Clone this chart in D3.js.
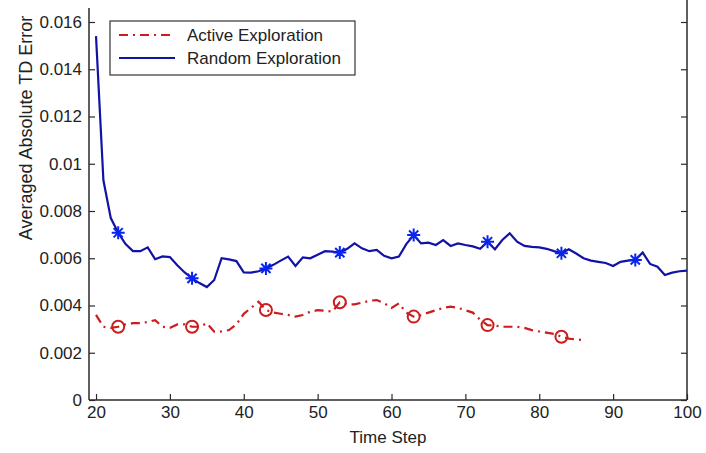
<!DOCTYPE html>
<html>
<head>
<meta charset="utf-8">
<script src="https://cdn.jsdelivr.net/npm/d3@7"></script>
<style>
  html, body { margin: 0; padding: 0; background: #fff; }
  svg { display: block; }
  text { font-family: "Liberation Sans", Arial, sans-serif; fill: #222; }
</style>
</head>
<body>
<svg id="chart" width="706" height="453"></svg>
<script>
// ---------------- data ----------------
const randomStart = 20;
const randomValues = [
  0.0154, 0.0093, 0.0077, 0.00708, 0.0066, 0.0063, 0.0063, 0.00646, 0.00596, 0.00608,
  0.00605, 0.0057, 0.0054, 0.00515, 0.00495, 0.00478, 0.00508, 0.00600, 0.00595, 0.00588,
  0.0054, 0.00539, 0.00545, 0.00557, 0.00572, 0.0059, 0.00607, 0.00567, 0.00604, 0.00600,
  0.00615, 0.0063, 0.00628, 0.00624, 0.0064, 0.00663, 0.00642, 0.0063, 0.00635, 0.0061,
  0.00600, 0.00607, 0.0066, 0.00698, 0.00663, 0.00666, 0.00656, 0.00677, 0.00652, 0.00663,
  0.00656, 0.0065, 0.0064, 0.0067, 0.00638, 0.00677, 0.00706, 0.0067, 0.00652, 0.00648,
  0.00646, 0.0064, 0.0063, 0.00621, 0.00638, 0.0062, 0.0060, 0.0059, 0.00585, 0.0058,
  0.00567, 0.00585, 0.0059, 0.00593, 0.00624, 0.00576, 0.00564, 0.00529, 0.00539, 0.00545,
  0.00548
];
const activeStart = 20;
const activeValues = [
  0.0036, 0.0031, 0.00305, 0.0031, 0.0032, 0.00325, 0.00325, 0.0033, 0.00338, 0.0031,
  0.00305, 0.0032, 0.0032, 0.0031, 0.0031, 0.00325, 0.00289, 0.0029, 0.00296, 0.0032,
  0.00365, 0.0039, 0.00416, 0.00381, 0.0037, 0.00365, 0.0036, 0.00353, 0.0036, 0.00374,
  0.0038, 0.00378, 0.00374, 0.00414, 0.00405, 0.00405, 0.00412, 0.0042, 0.00423, 0.0041,
  0.0039, 0.00409, 0.0037, 0.00353, 0.0036, 0.0037, 0.0038, 0.0039, 0.00395, 0.0039,
  0.0038, 0.0037, 0.0034, 0.00317, 0.00315, 0.0031, 0.0031, 0.0031, 0.00305, 0.00296,
  0.0029, 0.00285, 0.0028, 0.00268, 0.0026, 0.00256, 0.00254
];
const markerSteps = [23, 33, 43, 53, 63, 73, 83, 93];
const seriesNames = ["Active Exploration", "Random Exploration"];
const xTickValues = [20, 30, 40, 50, 60, 70, 80, 90, 100];
const xTickLabels = ["20", "30", "40", "50", "60", "70", "80", "90", "100"];
const yTickValues = [0, 0.002, 0.004, 0.006, 0.008, 0.01, 0.012, 0.014, 0.016];
const yTickLabels = ["0", "0.002", "0.004", "0.006", "0.008", "0.01", "0.012", "0.014", "0.016"];
const xTitle = "Time Step";
const yTitle = "Averaged Absolute TD Error";

// ---------------- layout ----------------
const svg = d3.select("#chart");
const left = 89, right = 687, bottom = 400;
const x = d3.scaleLinear().domain([19.05, 100]).range([left, right]);
const y = d3.scaleLinear().domain([0, 0.016]).range([bottom, 22]);

const randomData = randomValues.map((v, i) => ({ t: randomStart + i, v }));
const activeData = activeValues.map((v, i) => ({ t: activeStart + i, v }));

const axisColor = "#2a2a2a";
const fontSize = 17;

// axes
const xAxis = d3.axisBottom(x).tickValues(xTickValues)
  .tickFormat((d, i) => xTickLabels[i]).tickSizeInner(-6).tickSizeOuter(0).tickPadding(6);
const gx = svg.append("g").attr("transform", `translate(0,${bottom})`).call(xAxis);

const yAxis = d3.axisLeft(y).tickValues(yTickValues)
  .tickFormat((d, i) => yTickLabels[i]).tickSizeInner(-6).tickSizeOuter(0).tickPadding(7);
const gy = svg.append("g").attr("transform", `translate(${left},0)`).call(yAxis);

const yAxisR = d3.axisRight(y).tickValues(yTickValues)
  .tickFormat("").tickSizeInner(-6).tickSizeOuter(0);
const gyr = svg.append("g").attr("transform", `translate(${right},0)`).call(yAxisR);

[gx, gy, gyr].forEach(g => {
  g.select(".domain").remove();
  g.selectAll(".tick line").attr("stroke", axisColor).attr("stroke-width", 1.2);
  g.selectAll(".tick text").attr("font-size", fontSize)
    .attr("font-family", "'Liberation Sans', Arial, sans-serif").attr("fill", "#222");
});

// axis lines (box without top, as in reference crop)
svg.append("line").attr("x1", left).attr("x2", left).attr("y1", 8).attr("y2", bottom)
  .attr("stroke", axisColor).attr("stroke-width", 1.5);
svg.append("line").attr("x1", right).attr("x2", right).attr("y1", 0).attr("y2", bottom)
  .attr("stroke", axisColor).attr("stroke-width", 1.5);
svg.append("line").attr("x1", left).attr("x2", right).attr("y1", bottom).attr("y2", bottom)
  .attr("stroke", axisColor).attr("stroke-width", 1.5);

// axis titles
svg.append("text").attr("x", (left + right) / 2).attr("y", 443)
  .attr("text-anchor", "middle").attr("font-size", fontSize).text(xTitle);
svg.append("text").attr("transform", "translate(32,128) rotate(-90)")
  .attr("text-anchor", "middle").attr("font-size", 18).text(yTitle);

// lines
const line = d3.line().x(d => x(d.t)).y(d => y(d.v));
const redColor = "#cc1c1c", blueLine = "#1212a6", blueMark = "#0a24f0";

svg.append("path").datum(activeData).attr("d", line)
  .attr("fill", "none").attr("stroke", redColor).attr("stroke-width", 2.2)
  .attr("stroke-dasharray", "9,5,2,5");
svg.append("path").datum(randomData).attr("d", line)
  .attr("fill", "none").attr("stroke", blueLine).attr("stroke-width", 2.2);

// markers
const activeMarks = activeData.filter(d => markerSteps.includes(d.t));
const randomMarks = randomData.filter(d => markerSteps.includes(d.t));

svg.append("g").selectAll("circle").data(activeMarks).join("circle")
  .attr("cx", d => x(d.t)).attr("cy", d => y(d.v)).attr("r", 6)
  .attr("fill", "none").attr("stroke", redColor).attr("stroke-width", 2);

const s = 6.5, sd = 4.6;
svg.append("g").selectAll("path").data(randomMarks).join("path")
  .attr("transform", d => `translate(${x(d.t)},${y(d.v)})`)
  .attr("d", `M${-s},0L${s},0M0,${-s}L0,${s}M${-sd},${-sd}L${sd},${sd}M${-sd},${sd}L${sd},${-sd}`)
  .attr("fill", "none").attr("stroke", blueMark).attr("stroke-width", 2);

// legend
const lg = svg.append("g");
lg.append("rect").attr("x", 110).attr("y", 21).attr("width", 245).attr("height", 54)
  .attr("fill", "#fff").attr("stroke", "#333").attr("stroke-width", 1.2);
const legendItems = [
  { name: seriesNames[0], color: redColor, dash: "9,5,2,5", y: 35 },
  { name: seriesNames[1], color: blueLine, dash: null, y: 58 }
];
legendItems.forEach(it => {
  lg.append("line").attr("x1", 119).attr("x2", 175).attr("y1", it.y).attr("y2", it.y)
    .attr("stroke", it.color).attr("stroke-width", 2.2)
    .attr("stroke-dasharray", it.dash);
  lg.append("text").attr("x", 187).attr("y", it.y + 6).attr("font-size", fontSize).text(it.name);
});
</script>
</body>
</html>
